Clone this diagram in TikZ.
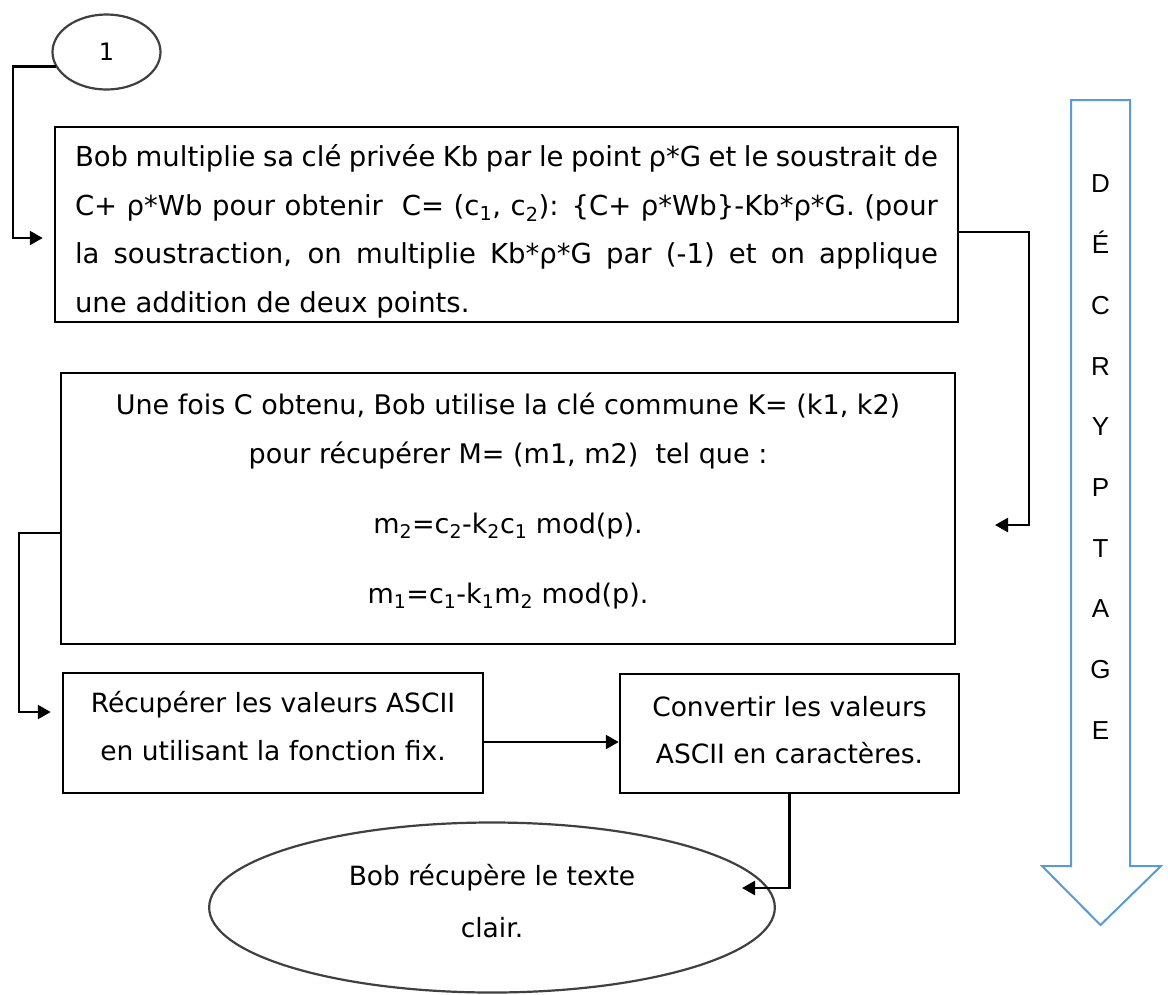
\documentclass[tikz,border=0pt]{standalone}
\usepackage{fontspec}
\setmainfont{DejaVu Sans}
\newfontfamily\arialfam{Liberation Sans}
\usetikzlibrary{arrows.meta,shapes.geometric}
\definecolor{ovalgray}{RGB}{64,64,64}
\definecolor{flowblue}{RGB}{91,155,213}
\newcommand{\lowi}[1]{\textsubscript{#1}}
\tikzset{
  boxnode/.style={draw=black, line width=2.5pt, rectangle, inner sep=0pt},
  ovalnode/.style={draw=ovalgray, line width=2.2pt, ellipse, inner sep=0pt},
  conn/.style={draw=black, line width=2.5pt},
  arr/.style={conn, -{Triangle[length=13pt,width=14pt]}},
}
\begin{document}
\begin{tikzpicture}[x=1pt,y=-1pt]
\fill[white] (0,0) rectangle (1168,994);
\useasboundingbox (0,0) rectangle (1168,994);

% start circle
\node[ovalnode, minimum width=108pt, minimum height=75pt, font=\fontsize{24}{28}\selectfont] (c1) at (106.5,52) {1};

% box 1
\node[boxnode, minimum width=903pt, minimum height=195pt] (b1) at (506.5,224.5)
{\parbox{863pt}{\fontsize{27.5}{48.7}\selectfont\vspace*{14pt}%
\makebox[863pt][s]{Bob multiplie sa clé privée Kb par le point ρ*G et le soustrait de}\\
\makebox[863pt][s]{C+ ρ*Wb pour obtenir\ \ C= (c\lowi{1}, c\lowi{2}): \{C+ ρ*Wb\}-Kb*ρ*G. (pour}\\
\makebox[863pt][s]{la soustraction, on multiplie Kb*ρ*G par (-1) et on applique}\\
une addition de deux points.}};

% box 2
\node[boxnode, minimum width=894pt, minimum height=271pt] (b2) at (508,508.5)
{\parbox{880pt}{\centering\fontsize{27}{49}\selectfont
Une fois C obtenu, Bob utilise la clé commune K= (k1, k2)\\
pour récupérer M= (m1, m2)\ \ tel que :\\[21pt]
m\lowi{2}=c\lowi{2}-k\lowi{2}c\lowi{1} mod(p).\\[21pt]
m\lowi{1}=c\lowi{1}-k\lowi{1}m\lowi{2} mod(p).\par\vspace*{15pt}}};

% box 3
\node[boxnode, minimum width=420pt, minimum height=120pt] (b3) at (273,733)
{\parbox{410pt}{\centering\fontsize{26.5}{48}\selectfont
Récupérer les valeurs ASCII\\en utilisant la fonction fix.\par\vspace*{14.5pt}}};

% box 4
\node[boxnode, minimum width=339pt, minimum height=119pt] (b4) at (789.5,733.5)
{\parbox{330pt}{\centering\fontsize{26.5}{47}\selectfont
Convertir les valeurs\\ASCII en caractères.\par\vspace*{7pt}}};

% end ellipse
\node[ovalnode, minimum width=498pt, minimum height=170pt] (fin) at (492,907.5)
{\parbox{400pt}{\centering\fontsize{26.5}{52}\selectfont
Bob récupère le texte\\clair.\par\vspace*{12pt}}};

% blue arrow
\draw[flowblue, line width=2pt, line join=miter] (1071,100) -- (1130,100) -- (1130,866) -- (1161,866)
  -- (1100.5,925) -- (1042,866) -- (1071,866) -- cycle;
\node[inner sep=0pt] (decr) at (1100.5,457.1)
{\parbox{40pt}{\centering\arialfam\fontsize{26}{60.7}\selectfont D\\É\\C\\R\\Y\\P\\T\\A\\G\\E}};

% connectors
\coordinate (k2) at (13,238);
\draw[arr, shorten >=11pt] (c1.196) -| (k2) -- (b1.west |- k2);

\coordinate (r1) at (1029,232);
\coordinate (r3) at (995,525);
\draw[arr] (b1.east |- r1) -- (r1) |- (r3);

\coordinate (l1) at (19,533);
\coordinate (l2) at (19,712);
\draw[arr, shorten >=11pt] (b2.west |- l1) -- (l1) -- (l2) -- (b3.west |- l2);

\coordinate (m1) at (0,742);
\draw[arr] (b3.east |- m1) -- (b4.west |- m1);

\coordinate (e2) at (742,888);
\draw[arr] (b4.south) |- (e2);
\end{tikzpicture}
\end{document}
